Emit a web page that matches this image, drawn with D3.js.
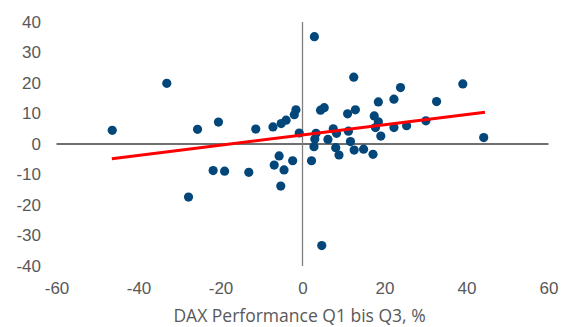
<!DOCTYPE html>
<html lang="de">
<head>
<meta charset="UTF-8">
<title>DAX Performance</title>
<style>
  html, body { margin: 0; padding: 0; background: #fff; overflow: hidden; }
  svg { display: block; font-family: 'Open Sans', sans-serif; }
  .tick text { fill: #595959; font-size: 17px; }
</style>
</head>
<body>
<svg width="561" height="327"></svg>
<script src="https://d3js.org/d3.v7.min.js"></script>
<script>
// DAX performance Q1 bis Q3 (x) vs. other performance (y), in %
const dataX = [
  -46.4, -33.1, -25.6, -20.5, -11.4, -7.2, -5.2, -4.0, -2.0, -1.6, -0.8,
  -21.8, -19.0, -13.1, -27.8, -6.9, -5.7, -4.5, -5.3, -2.4,
  2.2, 2.8, 8.1, 8.9, 12.6, 14.9, 17.2, 4.7,
  2.9, 12.5, 23.9, 39.1, 18.5, 22.3, 32.7, 4.4, 5.3, 12.9, 11.0,
  17.5, 18.5, 17.8, 25.4, 22.3, 30.1, 44.2, 19.1, 7.5, 8.3, 11.2,
  11.7, 6.2, 3.3, 3.0
];
const dataY = [
  4.5, 19.9, 4.8, 7.2, 4.9, 5.6, 6.7, 7.8, 9.6, 11.2, 3.6,
  -8.7, -8.9, -9.3, -17.4, -6.9, -3.9, -8.5, -13.8, -5.5,
  -5.5, -0.9, -1.2, -3.6, -2.0, -1.7, -3.4, -33.3,
  35.2, 21.9, 18.5, 19.7, 13.8, 14.7, 13.9, 11.1, 11.9, 11.2, 9.9,
  9.2, 7.3, 5.4, 6.0, 5.4, 7.6, 2.1, 2.6, 5.0, 3.5, 4.2,
  0.8, 1.5, 3.5, 1.6
];
// linear trend, endpoints
const trendX = [-46.5, 44.5];
const trendY = [-4.8, 10.4];

const xTicks = [-60, -40, -20, 0, 20, 40, 60];
const yTicks = [-40, -30, -20, -10, 0, 10, 20, 30, 40];
const xTitle = "DAX Performance Q1 bis Q3, %";

const svg = d3.select("svg");
const x = d3.scaleLinear().domain([-60, 60]).range([56.5, 548.5]);
const y = d3.scaleLinear().domain([-40, 40]).range([266, 22]);
const fmt = d => String(d); // plain hyphen minus like the original

// y labels
svg.append("g")
  .attr("transform", "translate(45,0)")
  .call(d3.axisLeft(y).tickValues(yTicks).tickFormat(fmt).tickSize(0).tickPadding(4))
  .call(g => g.select(".domain").remove());

// x labels
svg.append("g")
  .attr("transform", "translate(0,282)")
  .call(d3.axisBottom(x).tickValues(xTicks).tickFormat(fmt).tickSize(0).tickPadding(0))
  .call(g => g.select(".domain").remove());

// axes through zero
svg.append("line")
  .attr("x1", x(-60)).attr("x2", x(60))
  .attr("y1", y(0)).attr("y2", y(0))
  .attr("stroke", "#404040").attr("stroke-width", 1.3);
svg.append("line")
  .attr("x1", x(0)).attr("x2", x(0))
  .attr("y1", y(40)).attr("y2", y(-40))
  .attr("stroke", "#7f7f7f").attr("stroke-width", 1.3);

// points
const pts = dataX.map((v, i) => ({ x: v, y: dataY[i] }));
svg.append("g").selectAll("circle")
  .data(pts)
  .enter().append("circle")
  .attr("cx", d => x(d.x))
  .attr("cy", d => y(d.y))
  .attr("r", 4.6)
  .attr("fill", "#03477a");

// trend line
svg.append("line")
  .attr("x1", x(trendX[0])).attr("y1", y(trendY[0]))
  .attr("x2", x(trendX[1])).attr("y2", y(trendY[1]))
  .attr("stroke", "#ff0000").attr("stroke-width", 3);

svg.append("text")
  .attr("x", x(0) - 3).attr("y", 322)
  .attr("text-anchor", "middle")
  .attr("fill", "#595959")
  .attr("font-size", 17.5)
  .text(xTitle);
</script>
</body>
</html>
